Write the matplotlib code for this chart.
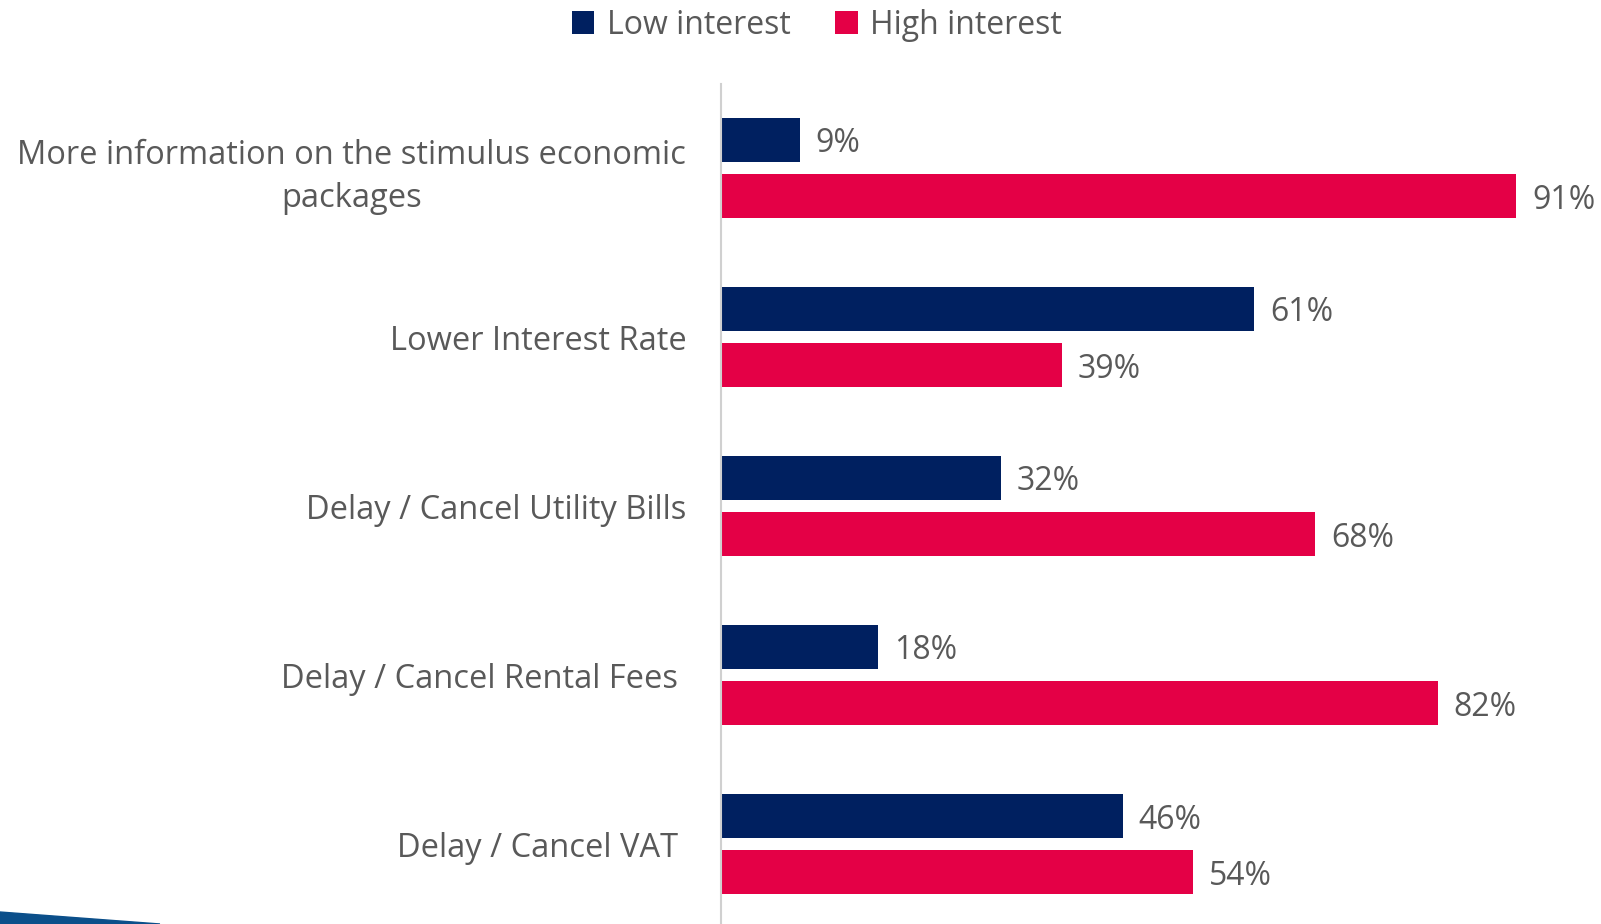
import matplotlib.pyplot as plt
import matplotlib.patches as mpatches
import numpy as np

plt.rcParams['font.family'] = ['Open Sans', 'DejaVu Sans']

categories = ['More information on the stimulus economic\npackages',
              'Lower Interest Rate',
              'Delay / Cancel Utility Bills',
              'Delay / Cancel Rental Fees ',
              'Delay / Cancel VAT ']
low = [9, 61, 32, 18, 46]
high = [91, 39, 68, 82, 54]
series_names = ['Low interest', 'High interest']

navy = '#002060'
red = '#E40046'
grey = '#595959'

W, H = 1601, 924
fig = plt.figure(figsize=(W / 100, H / 100), dpi=100)
ax = fig.add_axes([721 / W, 0, (1601 - 721) / W, 1 - 84 / H])

y = np.arange(len(categories))
h = 0.26
off = 0.166
ax.barh(y - off, low, height=h, color=navy, label=series_names[0])
ax.barh(y + off, high, height=h, color=red, label=series_names[1])

for yi, v in zip(y - off, low):
    ax.text(v + 1.8, yi, f'{v}%', va='center_baseline', ha='left', fontsize=23, color=grey)
for yi, v in zip(y + off, high):
    ax.text(v + 1.8, yi, f'{v}%', va='center_baseline', ha='left', fontsize=23, color=grey)

ax.set_xlim(0, 100.7)
ax.set_ylim(len(categories) - 1 + 0.473, -0.497)
ax.set_yticks(y)
ax.set_yticklabels(categories, fontsize=23.5, color=grey, linespacing=1.4,
                   multialignment='center')
ax.tick_params(axis='y', length=0, pad=25)
ax.set_xticks([])
for s in ['top', 'right', 'bottom']:
    ax.spines[s].set_visible(False)
ax.spines['left'].set_color('#d0d0d0')
ax.spines['left'].set_linewidth(1.5)

fig.legend(loc='center', bbox_to_anchor=(817 / W, 1 - 25 / H), ncol=2, frameon=False,
           fontsize=23, labelcolor=grey, handlelength=0.7, handleheight=0.7,
           handletextpad=0.4, columnspacing=1.4)

# decorative swoosh bottom-left
fig.patches.append(mpatches.Polygon([[0, 0], [0, 1 - 912 / H], [160 / W, 0]],
                                    closed=True, transform=fig.transFigure,
                                    color='#0b4f8a'))

fig.savefig('out.png', dpi=100)
